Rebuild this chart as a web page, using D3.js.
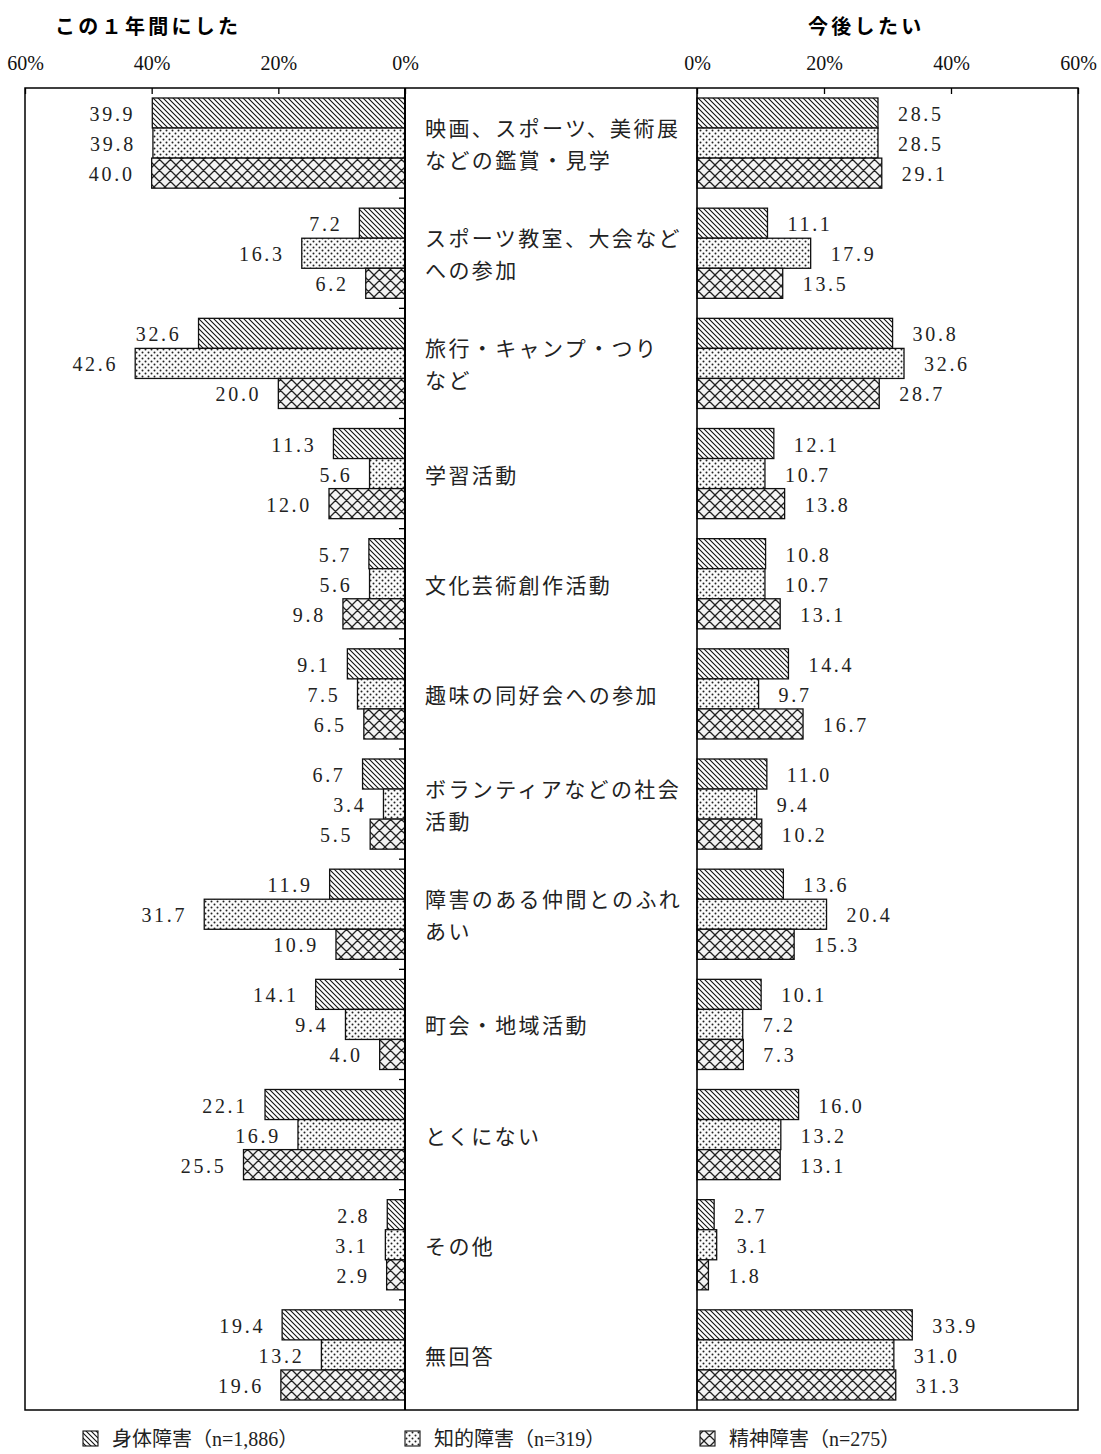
<!DOCTYPE html>
<html>
<head>
<meta charset="utf-8">
<script src="https://cdn.jsdelivr.net/npm/d3@7"></script>
<style>
  html, body { margin: 0; padding: 0; background: #fff; }
  svg { display: block; }
</style>
</head>
<body>
<svg id="chart" width="1101" height="1454"></svg>
<script>
// ---------- data ----------
const categoryLines = [
  ["映画、スポーツ、美術展", "などの鑑賞・見学"],
  ["スポーツ教室、大会など", "への参加"],
  ["旅行・キャンプ・つり", "など"],
  ["学習活動"],
  ["文化芸術創作活動"],
  ["趣味の同好会への参加"],
  ["ボランティアなどの社会", "活動"],
  ["障害のある仲間とのふれ", "あい"],
  ["町会・地域活動"],
  ["とくにない"],
  ["その他"],
  ["無回答"]
];
const categories = categoryLines.map(l => l.join(""));
const seriesNames = ["身体障害（n=1,886）", "知的障害（n=319）", "精神障害（n=275）"];
const seriesKeys = ["physical", "intellectual", "mental"];

// この１年間にした
const pastPhysical     = [39.9, 7.2, 32.6, 11.3, 5.7, 9.1, 6.7, 11.9, 14.1, 22.1, 2.8, 19.4];
const pastIntellectual = [39.8, 16.3, 42.6, 5.6, 5.6, 7.5, 3.4, 31.7, 9.4, 16.9, 3.1, 13.2];
const pastMental       = [40.0, 6.2, 20.0, 12.0, 9.8, 6.5, 5.5, 10.9, 4.0, 25.5, 2.9, 19.6];
// 今後したい
const futurePhysical     = [28.5, 11.1, 30.8, 12.1, 10.8, 14.4, 11.0, 13.6, 10.1, 16.0, 2.7, 33.9];
const futureIntellectual = [28.5, 17.9, 32.6, 10.7, 10.7, 9.7, 9.4, 20.4, 7.2, 13.2, 3.1, 31.0];
const futureMental       = [29.1, 13.5, 28.7, 13.8, 13.1, 16.7, 10.2, 15.3, 7.3, 13.1, 1.8, 31.3];

const tickValues = [0, 20, 40, 60];
const titleLeft = "この１年間にした";
const titleRight = "今後したい";

// ---------- build ----------
const pastData = [pastPhysical, pastIntellectual, pastMental];
const futureData = [futurePhysical, futureIntellectual, futureMental];

function rows(arrs) {
  const out = [];
  categories.forEach((c, i) => {
    seriesKeys.forEach((k, j) => out.push({ cat: c, key: k, value: arrs[j][i] }));
  });
  return out;
}

const svg = d3.select("#chart");
const topY = 88, bottomY = 1410;
const xL = d3.scaleLinear().domain([0, 60]).range([405, 25]);
const xR = d3.scaleLinear().domain([0, 60]).range([697, 1078]);
const y = d3.scaleBand().domain(categories).range([topY, bottomY]).padding(0);
const yIn = d3.scaleBand().domain(seriesKeys).range([10, y.bandwidth() - 10]).padding(0);

const serif = "'Liberation Serif', 'DejaVu Serif', 'Noto Sans CJK JP', serif";
const jp = "'Noto Sans CJK JP', sans-serif";

// patterns
const defs = svg.append("defs");
const pDiag = defs.append("pattern").attr("id", "p-physical")
  .attr("patternUnits", "userSpaceOnUse").attr("width", 5).attr("height", 5);
pDiag.append("rect").attr("width", 5).attr("height", 5).attr("fill", "#fff");
pDiag.append("path").attr("d", "M-1,-1 L6,6 M-1,4 L1,6 M4,-1 L6,1")
  .attr("stroke", "#111").attr("stroke-width", 1.1);

const pDot = defs.append("pattern").attr("id", "p-intellectual")
  .attr("patternUnits", "userSpaceOnUse").attr("width", 6).attr("height", 6);
pDot.append("rect").attr("width", 6).attr("height", 6).attr("fill", "#fbfbfb");
pDot.append("circle").attr("cx", 1.5).attr("cy", 1.5).attr("r", 1).attr("fill", "#222");
pDot.append("circle").attr("cx", 4.5).attr("cy", 4.5).attr("r", 1).attr("fill", "#222");

const pCross = defs.append("pattern").attr("id", "p-mental")
  .attr("patternUnits", "userSpaceOnUse").attr("width", 11).attr("height", 11);
pCross.append("rect").attr("width", 11).attr("height", 11).attr("fill", "#f4f4f4");
pCross.append("path").attr("d", "M0,0 L11,11 M11,0 L0,11 M-1,10 L1,12 M10,-1 L12,1 M-1,1 L1,-1 M10,12 L12,10")
  .attr("stroke", "#222").attr("stroke-width", 1.3);

// titles
svg.append("text").attr("x", 55).attr("y", 25).attr("dominant-baseline", "central")
  .attr("font-family", jp).attr("font-weight", "bold").attr("font-size", 20)
  .attr("letter-spacing", "3.3px").text(titleLeft);
svg.append("text").attr("x", 808).attr("y", 25).attr("dominant-baseline", "central")
  .attr("font-family", jp).attr("font-weight", "bold").attr("font-size", 20)
  .attr("letter-spacing", "3.3px").text(titleRight);

// axes (top)
function drawAxis(scale) {
  const g = svg.append("g").attr("transform", `translate(0,${topY})`)
    .call(d3.axisTop(scale).tickValues(tickValues).tickFormat(d => d + "%")
      .tickSizeInner(-6).tickSizeOuter(0).tickPadding(18));
  g.select(".domain").remove();
  g.selectAll(".tick line").attr("stroke", "#000").attr("stroke-width", 1.3);
  g.selectAll(".tick text").attr("font-family", serif).attr("font-size", 20).attr("fill", "#111");
}
drawAxis(xL);
drawAxis(xR);

// bars
function drawBars(data, scale, side) {
  const g = svg.append("g");
  g.selectAll("rect").data(data).join("rect")
    .attr("x", d => side === "L" ? scale(d.value) : scale(0))
    .attr("width", d => Math.abs(scale(d.value) - scale(0)))
    .attr("y", d => y(d.cat) + yIn(d.key))
    .attr("height", yIn.bandwidth())
    .attr("fill", d => `url(#p-${d.key})`)
    .attr("stroke", "#111").attr("stroke-width", 1.3);
  g.selectAll("text").data(data).join("text")
    .attr("x", d => side === "L" ? scale(d.value) - 17 : scale(d.value) + 20)
    .attr("y", d => y(d.cat) + yIn(d.key) + yIn.bandwidth() / 2 + 1)
    .attr("dominant-baseline", "central")
    .attr("text-anchor", side === "L" ? "end" : "start")
    .attr("font-family", serif).attr("font-size", 20).attr("fill", "#222")
    .attr("letter-spacing", "2.7px")
    .text(d => d.value.toFixed(1));
}
drawBars(rows(pastData), xL, "L");
drawBars(rows(futureData), xR, "R");

// frame and zero lines
svg.append("rect").attr("x", 25).attr("y", topY).attr("width", 1078 - 25).attr("height", bottomY - topY)
  .attr("fill", "none").attr("stroke", "#000").attr("stroke-width", 1.5);
svg.append("line").attr("x1", xL(0)).attr("x2", xL(0)).attr("y1", topY).attr("y2", bottomY)
  .attr("stroke", "#000").attr("stroke-width", 2);
svg.append("line").attr("x1", xR(0)).attr("x2", xR(0)).attr("y1", topY).attr("y2", bottomY)
  .attr("stroke", "#000").attr("stroke-width", 1.6);

// category ticks at group boundaries on left zero line
svg.append("g").selectAll("line").data(categories.slice(1)).join("line")
  .attr("x1", xL(0) - 6).attr("x2", xL(0))
  .attr("y1", d => y(d)).attr("y2", d => y(d))
  .attr("stroke", "#000").attr("stroke-width", 1.3);

// category labels
const lab = svg.append("g");
categoryLines.forEach((lines, i) => {
  const cy = y(categories[i]) + y.bandwidth() / 2;
  lines.forEach((t, j) => {
    lab.append("text")
      .attr("x", 425)
      .attr("y", cy + (j - (lines.length - 1) / 2) * 32)
      .attr("dominant-baseline", "central")
      .attr("font-family", jp).attr("font-size", 21).attr("fill", "#222")
      .attr("letter-spacing", "2.4px")
      .text(t);
  });
});

// legend
const legendX = [83, 405, 700];
const leg = svg.append("g");
seriesKeys.forEach((k, i) => {
  leg.append("rect").attr("x", legendX[i]).attr("y", 1431).attr("width", 15).attr("height", 15)
    .attr("fill", `url(#p-${k})`).attr("stroke", "#111").attr("stroke-width", 1.1);
  leg.append("text").attr("x", legendX[i] + 29).attr("y", 1439)
    .attr("dominant-baseline", "central")
    .attr("font-family", serif).attr("font-size", 20).attr("fill", "#222")
    .text(seriesNames[i]);
});
</script>
</body>
</html>
